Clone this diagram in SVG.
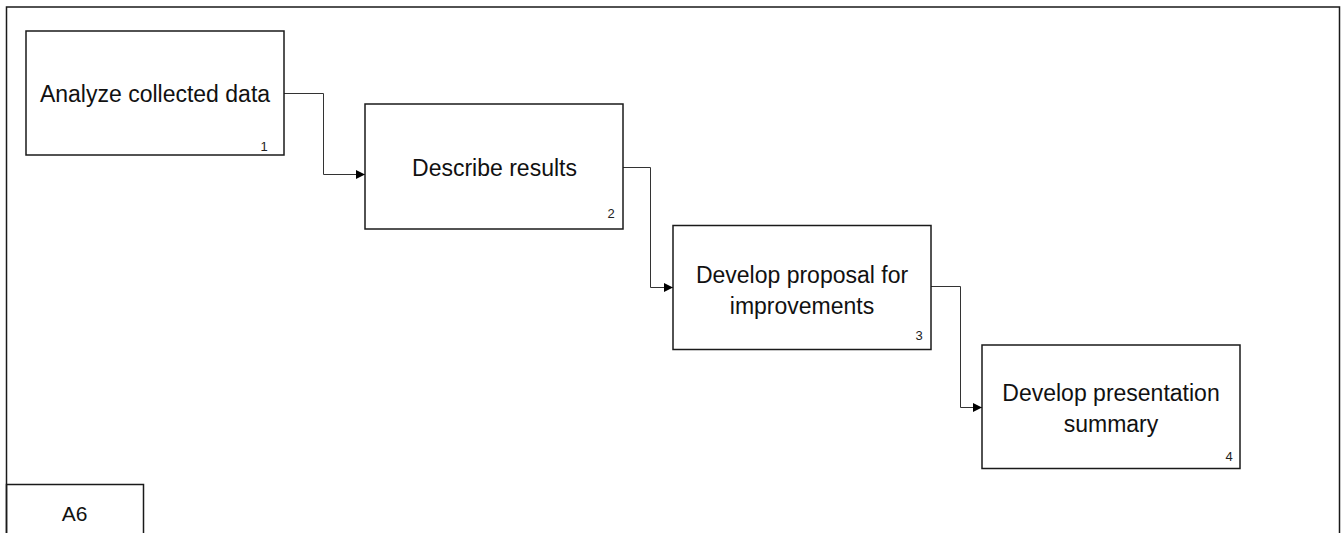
<svg xmlns="http://www.w3.org/2000/svg" width="1341" height="533" viewBox="0 0 1341 533">
  <style>
    .frame { fill: none; stroke: #1a1a1a; stroke-width: 1.5; }
    .box { fill: #ffffff; stroke: #1a1a1a; stroke-width: 1.5; }
    .label { font-family: "Liberation Sans", Arial, sans-serif; font-size: 23px; fill: #111111; text-anchor: middle; }
    .num { font-family: "Liberation Sans", Arial, sans-serif; font-size: 13px; fill: #222222; text-anchor: middle; }
    .link { fill: none; stroke: #333333; stroke-width: 1; }
  </style>
  <defs>
    <marker id="arrow" viewBox="0 0 10 10" refX="10" refY="5" markerWidth="9" markerHeight="9" markerUnits="userSpaceOnUse" orient="auto">
      <path d="M0,0 L10,5 L0,10 Z" fill="#000000"/>
    </marker>
  </defs>

  <rect x="0" y="0" width="1341" height="533" fill="#ffffff"/>

  <!-- page frame -->
  <g id="frame">
    <path class="frame" d="M6.5,533 V7 H1339.5 V533"/>
    <path class="frame" d="M6.5,533 V484.5 H143.5 V533"/>
    <text class="label" x="74.5" y="521" style="font-size:21px">A6</text>
  </g>

  <!-- connectors -->
  <g id="connectors">
    <path class="link" d="M284,93.5 H323.5 V174.5 H365" marker-end="url(#arrow)"/>
    <path class="link" d="M623,167.5 H650.5 V287.5 H673" marker-end="url(#arrow)"/>
    <path class="link" d="M931,286.5 H960.5 V407.5 H982" marker-end="url(#arrow)"/>
  </g>

  <g id="node1">
    <rect class="box" x="26" y="31" width="258" height="124"/>
    <text class="label" x="155" y="102">Analyze collected data</text>
    <text class="num" x="264" y="151">1</text>
  </g>

  <g id="node2">
    <rect class="box" x="365" y="104" width="258" height="125"/>
    <text class="label" x="494.5" y="176">Describe results</text>
    <text class="num" x="611" y="218">2</text>
  </g>

  <g id="node3">
    <rect class="box" x="673" y="225.5" width="258" height="124"/>
    <text class="label" x="802" y="283">Develop proposal for</text>
    <text class="label" x="802" y="314">improvements</text>
    <text class="num" x="919" y="340">3</text>
  </g>

  <g id="node4">
    <rect class="box" x="982" y="345" width="258" height="123.5"/>
    <text class="label" x="1111" y="401">Develop presentation</text>
    <text class="label" x="1111" y="432">summary</text>
    <text class="num" x="1229" y="461">4</text>
  </g>
</svg>
